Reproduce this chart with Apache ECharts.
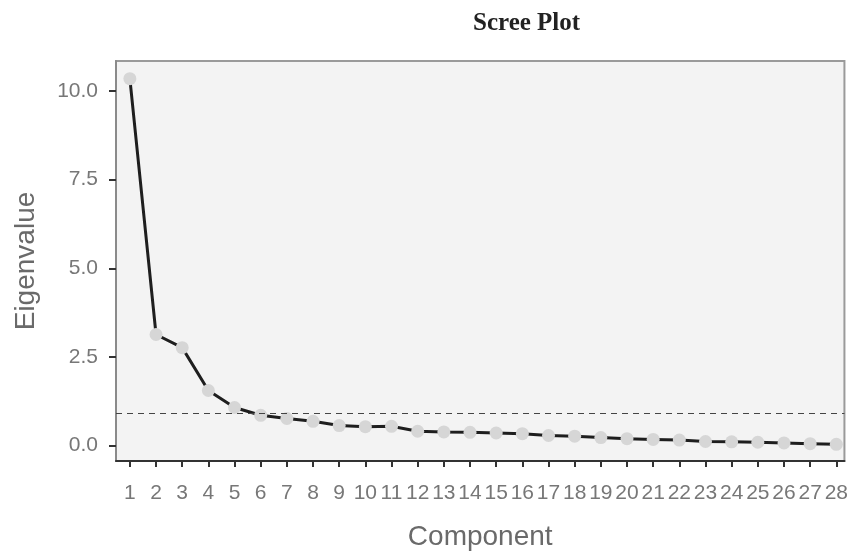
<!DOCTYPE html>
<html>
<head>
<meta charset="utf-8">
<title>Scree Plot</title>
<script src="https://cdn.jsdelivr.net/npm/echarts@6/dist/echarts.min.js"></script>
<style>
  html, body { margin: 0; padding: 0; background: #ffffff; }
  #chart { width: 851px; height: 556px; }
</style>
</head>
<body>
<div id="chart"></div>
<script>
// Component numbers along the x axis
const components = [1, 2, 3, 4, 5, 6, 7, 8, 9, 10, 11, 12, 13, 14, 15, 16, 17, 18, 19, 20, 21, 22, 23, 24, 25, 26, 27, 28];
// Eigenvalue for each component
const eigenvalues = [10.35, 3.13, 2.76, 1.55, 1.07, 0.85, 0.76, 0.68, 0.56, 0.53, 0.54, 0.40, 0.38, 0.37, 0.35, 0.33, 0.28, 0.26, 0.22, 0.19, 0.17, 0.15, 0.11, 0.10, 0.09, 0.07, 0.05, 0.03];
// Tick positions on the y axis
const yTicks = [0, 2.5, 5, 7.5, 10];
// Reference cut-off level drawn as a dashed line
const cutoff = 0.92;

const points = components.map((c, i) => [c, eigenvalues[i]]);
const labelFont = 'Liberation Sans, Arial, sans-serif';

const chart = echarts.init(document.getElementById('chart'), null, { renderer: 'canvas' });
chart.setOption({
  animation: false,
  backgroundColor: '#ffffff',
  title: {
    text: 'Scree Plot',
    left: 468,
    top: 6,
    textStyle: {
      fontFamily: 'Liberation Serif, Times New Roman, serif',
      fontWeight: 'bold',
      fontSize: 25,
      color: '#222222'
    }
  },
  grid: {
    left: 116,
    right: 0,
    top: 61,
    bottom: 95,
    show: true,
    backgroundColor: '#f3f3f3',
    borderColor: '#9a9a9a',
    borderWidth: 2
  },
  xAxis: {
    type: 'value',
    min: 0.47,
    max: 28.31,
    name: 'Component',
    nameLocation: 'middle',
    nameGap: 62,
    nameTextStyle: { fontFamily: labelFont, fontSize: 28, color: '#6a6a6a' },
    splitLine: { show: false },
    axisLine: { show: true, onZero: false, lineStyle: { color: '#333333', width: 2 } },
    axisTick: {
      show: true,
      length: 6,
      customValues: components,
      lineStyle: { color: '#333333', width: 2 }
    },
    axisLabel: {
      customValues: components,
      margin: 22,
      fontFamily: labelFont,
      fontSize: 21,
      color: '#777777',
      hideOverlap: false,
      showMinLabel: true,
      showMaxLabel: true
    }
  },
  yAxis: {
    type: 'value',
    min: -0.44,
    max: 10.85,
    name: 'Eigenvalue',
    nameLocation: 'middle',
    nameGap: 76,
    nameTextStyle: { fontFamily: labelFont, fontSize: 28, color: '#6a6a6a' },
    splitLine: { show: false },
    axisLine: { show: true, onZero: false, lineStyle: { color: '#8a8a8a', width: 2 } },
    axisTick: {
      show: true,
      length: 7,
      customValues: yTicks,
      lineStyle: { color: '#333333', width: 2 }
    },
    axisLabel: {
      customValues: yTicks,
      margin: 18,
      fontFamily: labelFont,
      fontSize: 21,
      color: '#777777',
      formatter: v => v.toFixed(1)
    }
  },
  series: [{
    type: 'line',
    data: points,
    symbol: 'circle',
    symbolSize: 13,
    lineStyle: { color: '#1e1e1e', width: 3 },
    itemStyle: { color: '#d6d6d6', borderWidth: 0 },
    z: 3,
    markLine: {
      silent: true,
      symbol: ['none', 'none'],
      label: { show: false },
      lineStyle: { color: '#444444', width: 1.2, type: [6, 5] },
      data: [{ yAxis: cutoff }]
    }
  }]
});
</script>
</body>
</html>
